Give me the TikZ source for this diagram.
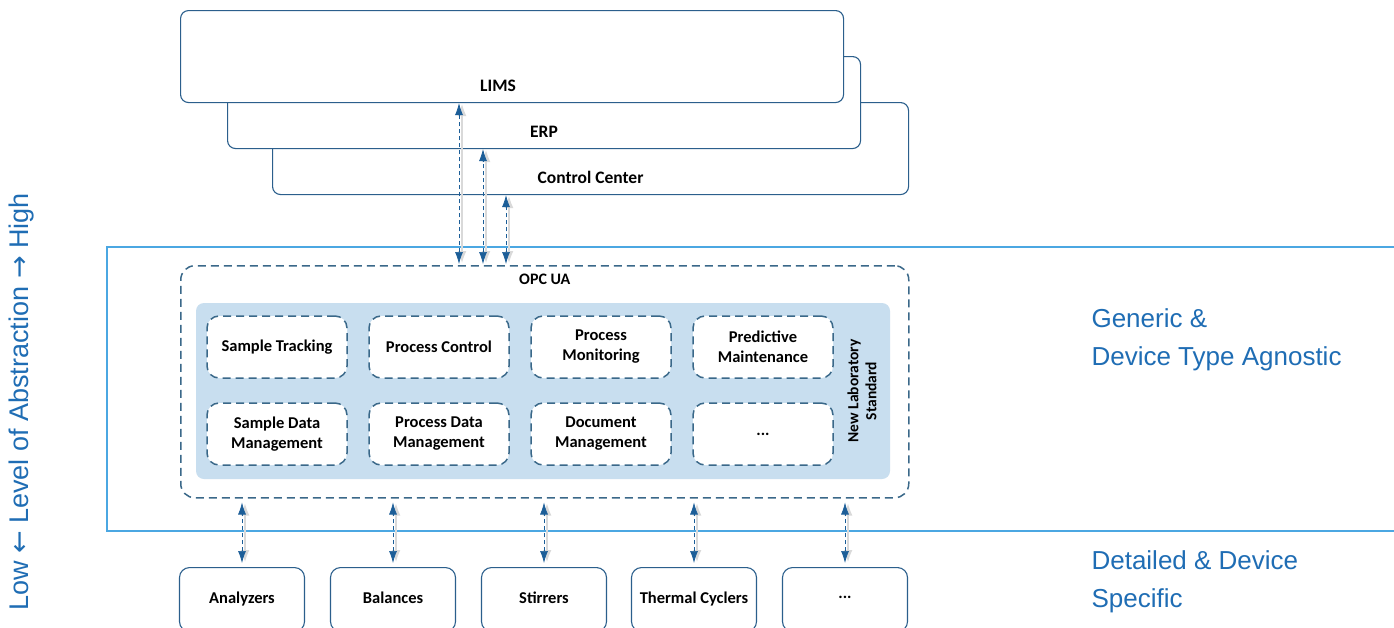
\documentclass[tikz,border=0pt]{standalone}
\usepackage{fontspec}
\setmainfont{Carlito}
\newfontfamily\sidefont{Liberation Sans}
\newfontfamily\arrowfont{DejaVu Sans}
\usetikzlibrary{arrows.meta,positioning}
\definecolor{boxblue}{HTML}{2B5F8C}
\definecolor{dashblue}{HTML}{3A6889}
\definecolor{framecol}{HTML}{4BA7E2}
\definecolor{stdfill}{HTML}{C8DEEF}
\definecolor{headblue}{HTML}{1C5E98}
\definecolor{sideblue}{HTML}{1F6DB4}
\begin{document}
\begin{tikzpicture}[x=1pt,y=-1pt,
    layer/.style={draw=boxblue, line width=1.1pt, rounded corners=8pt, fill=white, minimum width=635pt, minimum height=92pt, anchor=north west},
    layertext/.style={font=\bfseries\fontsize{17.5}{20}\selectfont},
    func/.style={draw=dashblue, line width=1.5pt, dash pattern=on 8pt off 5pt, rounded corners=12pt, fill=white, minimum width=140pt, minimum height=62pt, align=center, font=\bfseries\fontsize{16.5}{20}\selectfont},
    device/.style={draw=boxblue, line width=1.1pt, rounded corners=10pt, fill=white, minimum width=125pt, minimum height=64pt, anchor=north, text depth=4pt, font=\bfseries\fontsize{16.5}{18}\selectfont},
    link/.style={{Latex[length=12pt,width=8pt]}-{Latex[length=12pt,width=8pt]}, headblue, line width=0.7pt, dash pattern=on 4pt off 3pt,
        preaction={draw=gray!30, line width=2.5pt, solid, {Latex[length=13pt,width=9pt]}-{Latex[length=13pt,width=9pt]}, transform canvas={xshift=3pt}}},
    sidetext/.style={text=sideblue, align=left, font=\sidefont\fontsize{26}{38}\selectfont}]
\useasboundingbox (0,0) rectangle (1394,627);
\clip (0,0) rectangle (1394,627);

% business systems
\node[layer, minimum width=636pt] (cc) at (272,102) {};
\node[layertext, above=8pt of cc.south] {Control Center};
\node[layer, minimum width=633pt] (erp) at (227,56) {};
\node[layertext, above=8pt of erp.south] {ERP};
\node[layer, minimum width=663pt] (lims) at (180,10) {};
\node[layertext, above=8pt of lims.south, xshift=-14pt] {LIMS};

% abstraction band
\draw[framecol, line width=1.1pt] (1394,247) -- (107,247) -- (107,531) -- (1394,531);

\node[draw=dashblue, line width=1.5pt, dash pattern=on 8pt off 5pt, rounded corners=14pt, fill=white,
      minimum width=728pt, minimum height=232pt, anchor=north west] (opc) at (180,265) {};
\node[font=\bfseries\fontsize{16}{18}\selectfont, below=5pt of opc.north] {OPC UA};
\node[fill=stdfill, rounded corners=8pt, minimum width=694pt, minimum height=176pt] (std) at (543,391) {};

\node[func] (track) at (277,347) {Sample Tracking};
\node[func] (pctrl) at (439,347) {Process Control};
\node[func] (pmon) at (601,347) {Process\\Monitoring};
\node[func] (maint) at (763,347) {Predictive\\Maintenance};
\node[func] (sdata) at (277,434) {Sample Data\\Management};
\node[func] (pdata) at (439,434) {Process Data\\Management};
\node[func] (docs) at (601,434) {Document\\Management};
\node[func] (more) at (763,434) {...};
\node[rotate=90, align=center, font=\bfseries\fontsize{15.5}{18}\selectfont] (nls) at (862,391) {New Laboratory\\Standard};

% devices
\node[device] (ana) at (242,567) {Analyzers};
\node[device] (bal) at (393,567) {Balances};
\node[device] (stir) at (544,567) {Stirrers};
\node[device] (therm) at (694,567) {Thermal Cyclers};
\node[device] (dev) at (845,567) {...};

% connections
\coordinate (u1) at (459,265);
\coordinate (u2) at (483,265);
\coordinate (u3) at (506,265);
\draw[link, shorten <=1pt] (u1) -- (u1 |- lims.south);
\draw[link, shorten <=1pt] (u2) -- (u2 |- erp.south);
\draw[link, shorten <=1pt] (u3) -- (u3 |- cc.south);

\foreach \d in {ana,bal,stir,therm,dev}
    \draw[link, shorten <=4pt, shorten >=4pt] (\d.north) -- (\d.north |- opc.south);

% side labels
\node[sidetext, anchor=west] (generic) at (1088,340) {Generic \&\\Device Type Agnostic};
\node[sidetext, anchor=west] (detail) at (1088,582) {Detailed \& Device\\Specific};
\node[rotate=90, text=sideblue, font=\sidefont\fontsize{27}{29}\selectfont] (axis) at (22,402)
    {Low {\arrowfont ←} Level of Abstraction {\arrowfont →} High};
\end{tikzpicture}
\end{document}
